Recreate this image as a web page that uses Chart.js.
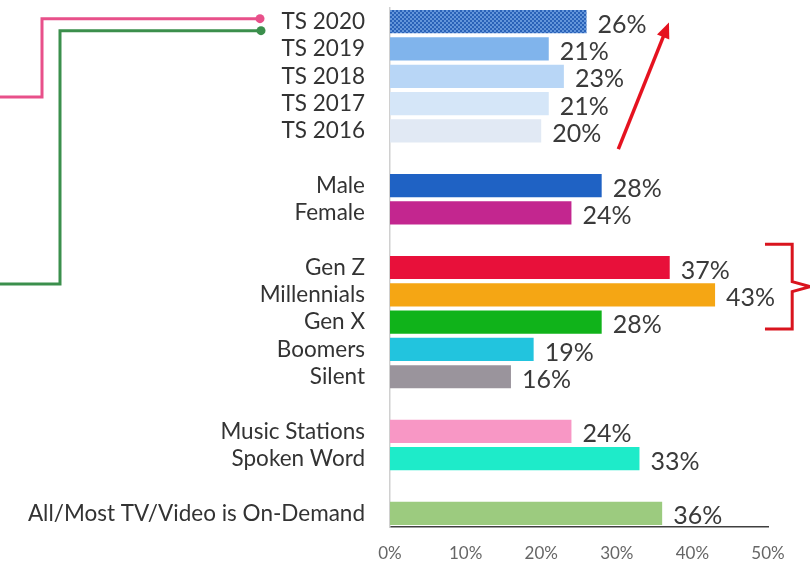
<!DOCTYPE html>
<html>
<head>
<meta charset="utf-8">
<script src="https://cdn.jsdelivr.net/npm/chart.js@4.4.1/dist/chart.umd.min.js"></script>
<style>
    html, body { margin: 0; padding: 0; background: #fff; }
    #wrap { width: 810px; height: 565px; position: relative; }
</style>
</head>
<body>
<div id="wrap"><canvas id="chart"></canvas></div>
<script>
// rows, with blank rows used as spacers between the groups
const categories = [
    'TS 2020', 'TS 2019', 'TS 2018', 'TS 2017', 'TS 2016', '',
    'Male', 'Female', '',
    'Gen Z', 'Millennials', 'Gen X', 'Boomers', 'Silent', '',
    'Music Stations', 'Spoken Word', '',
    'All/Most TV/Video is On-Demand',
];
const shares = [26, 21, 23, 21, 20, null, 28, 24, null, 37, 43, 28, 19, 16, null, 24, 33, null, 36];
const barColors = [
    'dots', '#80b4ec', '#b8d6f6', '#d5e6f8', '#e1e9f4', null,
    '#1f62c4', '#c3268f', null,
    '#e8103a', '#f5a614', '#10b31a', '#22c4de', '#9a949c', null,
    '#f897c5', '#1eebc9', null,
    '#9ccb7f',
];
const xTicks = [0, 10, 20, 30, 40, 50];

const FONT = 'Lato, "Noto Sans", sans-serif';

function dotPattern(ctx) {
    const tile = document.createElement('canvas');
    tile.width = 4;
    tile.height = 4;
    const t = tile.getContext('2d');
    t.fillStyle = '#2a62b8';
    t.fillRect(0, 0, 4, 4);
    t.fillStyle = '#78a8e6';
    t.beginPath();
    t.arc(1, 1, 1, 0, Math.PI * 2);
    t.arc(3, 3, 1, 0, Math.PI * 2);
    t.fill();
    return ctx.createPattern(tile, 'repeat');
}

const canvas = document.getElementById('chart');
const ctx = canvas.getContext('2d');
const fills = barColors.map((c) => (c === 'dots' ? dotPattern(ctx) : c));

const valueLabels = {
    id: 'valueLabels',
    afterDatasetsDraw(chart) {
        const c = chart.ctx;
        const meta = chart.getDatasetMeta(0);
        c.save();
        c.font = '25px ' + FONT;
        c.fillStyle = '#3a3a3a';
        c.textBaseline = 'middle';
        c.textAlign = 'left';
        meta.data.forEach((bar, i) => {
            if (shares[i] === null) return;
            c.fillText(shares[i] + '%', bar.x + 11, bar.y + 3);
        });
        c.restore();
    },
};

// side annotations: connectors on the left, trend arrow and bracket on the right
const callouts = {
    id: 'callouts',
    afterDraw(chart) {
        const c = chart.ctx;
        const x = chart.scales.x;
        const y = chart.scales.y;
        const top = y.getPixelForValue(0);

        c.save();
        c.lineWidth = 3;
        c.lineJoin = 'miter';

        // pink connector
        c.strokeStyle = '#e8508a';
        c.beginPath();
        c.moveTo(0, 97);
        c.lineTo(42, 97);
        c.lineTo(42, top - 3);
        c.lineTo(260, top - 3);
        c.stroke();
        c.fillStyle = '#e8508a';
        c.beginPath();
        c.arc(260, top - 3, 4.5, 0, Math.PI * 2);
        c.fill();

        // green connector
        c.strokeStyle = '#3b8f4c';
        c.beginPath();
        c.moveTo(0, 284);
        c.lineTo(60, 284);
        c.lineTo(60, top + 9);
        c.lineTo(261, top + 9);
        c.stroke();
        c.fillStyle = '#3b8f4c';
        c.beginPath();
        c.arc(261, top + 9, 4.5, 0, Math.PI * 2);
        c.fill();

        // trend arrow
        const red = '#e5121f';
        const x0 = x.getPixelForValue(30.2), y0 = y.getPixelForValue(4.67);
        const x1 = x.getPixelForValue(36.9), y1 = y.getPixelForValue(0.03);
        const ang = Math.atan2(y1 - y0, x1 - x0);
        const head = 17;
        c.strokeStyle = red;
        c.lineWidth = 3.5;
        c.beginPath();
        c.moveTo(x0, y0);
        c.lineTo(x1 - Math.cos(ang) * head * 0.8, y1 - Math.sin(ang) * head * 0.8);
        c.stroke();
        c.fillStyle = red;
        c.beginPath();
        c.moveTo(x1, y1);
        c.lineTo(x1 - head * Math.cos(ang - 0.4), y1 - head * Math.sin(ang - 0.4));
        c.lineTo(x1 - head * Math.cos(ang + 0.4), y1 - head * Math.sin(ang + 0.4));
        c.closePath();
        c.fill();

        // bracket around the generations
        const bl = x.getPixelForValue(49.6);
        const bv = x.getPixelForValue(53.2);
        const bt = y.getPixelForValue(8.15);
        const bb = y.getPixelForValue(11.25);
        const bm = y.getPixelForValue(9.7);
        c.strokeStyle = '#d9141e';
        c.lineWidth = 3;
        c.beginPath();
        c.moveTo(bl, bt);
        c.lineTo(bv, bt);
        c.lineTo(bv, bm - 5);
        c.lineTo(810, bm);
        c.lineTo(bv, bm + 5);
        c.lineTo(bv, bb);
        c.lineTo(bl, bb);
        c.stroke();
        c.restore();
    },
};

new Chart(ctx, {
    type: 'bar',
    data: {
        labels: categories,
        datasets: [{
            data: shares,
            backgroundColor: fills,
            borderWidth: 0,
            barPercentage: 0.85,
            categoryPercentage: 1,
        }],
    },
    options: {
        indexAxis: 'y',
        responsive: true,
        maintainAspectRatio: false,
        animation: false,
        layout: { padding: { top: 8, right: 42, bottom: 0, left: 0 } },
        plugins: {
            legend: { display: false },
            tooltip: { enabled: false },
        },
        scales: {
            x: {
                min: 0,
                max: 50,
                afterBuildTicks(scale) {
                    scale.ticks = xTicks.map((v) => ({ value: v }));
                },
                afterFit(scale) {
                    scale.height = 38;
                    scale.paddingLeft = 0;
                    scale.paddingRight = 0;
                },
                grid: { display: false, drawTicks: false },
                border: { display: true, color: '#404040', width: 1.5 },
                ticks: {
                    padding: 16,
                    color: '#666',
                    font: { family: FONT, size: 17 },
                    callback: (v) => v + '%',
                },
            },
            y: {
                afterFit(scale) {
                    scale.width = 390;
                    scale.paddingTop = 0;
                    scale.paddingBottom = 0;
                },
                grid: { display: false, drawTicks: false },
                border: { display: true, color: '#d0d0d0', width: 1.5 },
                ticks: {
                    padding: 25,
                    color: '#333',
                    autoSkip: false,
                    font: { family: FONT, size: 22.5 },
                },
            },
        },
    },
    plugins: [valueLabels, callouts],
});
</script>
</body>
</html>
